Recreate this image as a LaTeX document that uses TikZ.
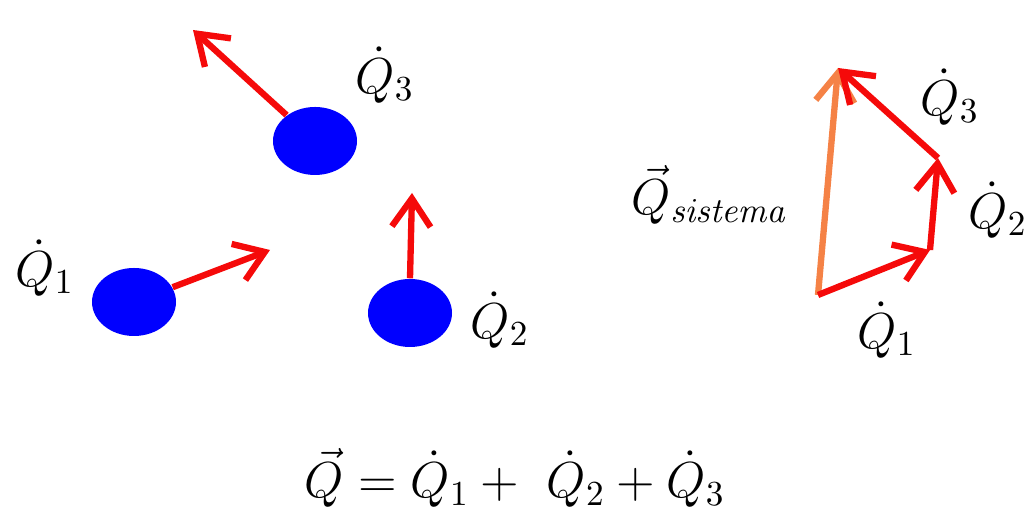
\documentclass[tikz,border=0pt]{standalone}
\usetikzlibrary{arrows.meta,shapes.geometric}
\definecolor{ballblue}{RGB}{0,0,255}
\definecolor{vecred}{RGB}{245,10,10}
\definecolor{vecorange}{RGB}{245,130,70}
\tikzset{
  ball/.style={ellipse, fill=ballblue, minimum width=0.84cm, minimum height=0.68cm, inner sep=0pt},
  vec/.style={draw=vecred, line width=1.8pt, -{Straight Barb[length=8pt, width=11pt]}},
  lbl/.style={font=\Large}
}
\begin{document}
\begin{tikzpicture}
  \useasboundingbox (0, 0) rectangle (10.34, 5.18);
  % heat flows at each body
  \node[ball] (b3) at (3.15, 3.77) {};
  \node[ball] (b1) at (1.34, 2.16) {};
  \node[ball] (b2) at (4.10, 2.05) {};
  \coordinate (t3) at (1.93, 4.88);
  \coordinate (t1) at (2.70, 2.68);
  \coordinate (t2) at (4.12, 3.25);
  \draw[vec] (b3) -- (t3);
  \draw[vec] (b1) -- (t1);
  \draw[vec] (b2.north) -- (t2);
  \node[lbl] (q3) at (3.85, 4.43) {$\dot{Q}_3$};
  \node[lbl] (q1) at (0.45, 2.50) {$\dot{Q}_1$};
  \node[lbl] (q2) at (5.00, 1.98) {$\dot{Q}_2$};
  % vector sum
  \coordinate (o) at (8.18, 2.23);
  \coordinate (a) at (9.30, 2.68);
  \coordinate (b) at (9.38, 3.60);
  \coordinate (t) at (8.38, 4.50);
  \draw[vec, draw=vecorange] (o) -- (t);
  \draw[vec] (o) -- (a);
  \draw[vec] (a) -- (b);
  \draw[vec] (b) -- (t);
  \node[lbl] (qs) at (7.10, 3.23) {$\vec{Q}_{\mathit{sistema}}$};
  \node[lbl] (q3r) at (9.50, 4.21) {$\dot{Q}_3$};
  \node[lbl] (q2r) at (9.98, 3.08) {$\dot{Q}_2$};
  \node[lbl] (q1r) at (8.87, 1.88) {$\dot{Q}_1$};
  \node[lbl] (eq) at (5.15, 0.40) {$\vec{Q} = \dot{Q}_1 + \ \dot{Q}_2 + \dot{Q}_3$};
\end{tikzpicture}
\end{document}
